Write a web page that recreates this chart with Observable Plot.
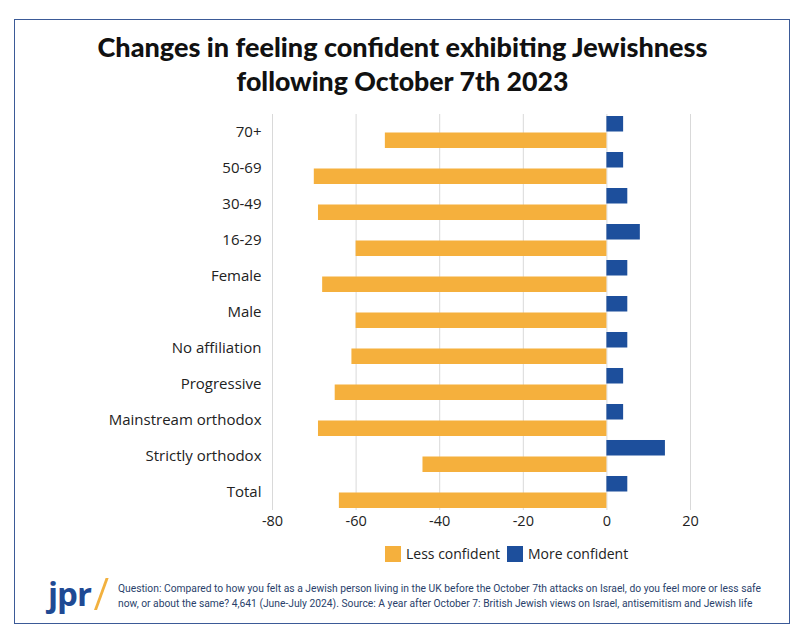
<!DOCTYPE html>
<html>
<head>
<meta charset="utf-8">
<script src="https://cdn.jsdelivr.net/npm/d3@7"></script>
<script src="https://cdn.jsdelivr.net/npm/@observablehq/plot@0.6"></script>
<style>
  html, body { margin: 0; padding: 0; background: #fff; }
  body { width: 805px; height: 644px; position: relative; overflow: hidden; font-family: "Open Sans", sans-serif; }
  #frame { position: absolute; left: 14px; top: 19px; width: 774px; height: 603px; border: 1.5px solid #3b5a97; }
  #title { position: absolute; left: 0; width: 805px; top: 29px; text-align: center; font-family: Lato, "Open Sans", sans-serif; font-weight: 900; font-size: 26px; line-height: 35px; color: #111; }
  #title div { white-space: nowrap; }
  #chart { position: absolute; left: 0; top: 110px; line-height: 0; }
  #legend { position: absolute; top: 545px; left: 0; width: 805px; height: 18px; font-size: 14px; color: #222; }
  .sw { position: absolute; top: 1px; width: 16px; height: 16px; }
  .lt { position: absolute; top: -1px; white-space: nowrap; }
  #logo { position: absolute; left: 48px; top: 571px; font-family: "Open Sans", sans-serif; font-weight: 700; font-size: 33px; color: #1f4a94; letter-spacing: -1px; }
  #slash { position: absolute; left: 94px; top: 578px; width: 3px; height: 32px; background: #f2b13f; transform: skewX(-20deg); transform-origin: bottom left; }
  #note { position: absolute; left: 118px; top: 581px; font-family: Roboto, "Open Sans", sans-serif; font-size: 11px; line-height: 15px; color: #2a3f6b; }
  #note div { white-space: nowrap; }
</style>
</head>
<body>
<div id="frame"></div>
<div id="title"><div id="t1">Changes in feeling confident exhibiting Jewishness</div><div id="t2">following October 7th 2023</div></div>
<div id="chart"></div>
<div id="legend"></div>
<div id="logo">jpr</div>
<div id="slash"></div>
<div id="note"><div id="n1">Question: Compared to how you felt as a Jewish person living in the UK before the October 7th attacks on Israel, do you feel more or less safe</div><div id="n2">now, or about the same? 4,641 (June-July 2024). Source: A year after October 7: British Jewish views on Israel, antisemitism and Jewish life</div></div>
<script>
const categories = ["70+", "50-69", "30-49", "16-29", "Female", "Male", "No affiliation", "Progressive", "Mainstream orthodox", "Strictly orthodox", "Total"];
const lessConfident = [-53, -70, -69, -60, -68, -60, -61, -65, -69, -44, -64];
const moreConfident = [4, 4, 5, 8, 5, 5, 5, 4, 4, 14, 5];
const seriesNames = ["Less confident", "More confident"];
const seriesColors = ["#f5b03d", "#1d4f9c"];
const xTicks = [-80, -60, -40, -20, 0, 20];

const lessData = categories.map((c, i) => ({category: c, value: lessConfident[i]}));
const moreData = categories.map((c, i) => ({category: c, value: moreConfident[i]}));

const chart = Plot.plot({
  width: 805,
  height: 424,
  marginTop: 4,
  marginBottom: 24,
  marginLeft: 272,
  marginRight: 115,
  style: {fontFamily: "'Open Sans', sans-serif", fontSize: "14px", color: "#222", background: "transparent"},
  x: {domain: [-80, 20], ticks: xTicks, tickFormat: d => String(d), label: null},
  y: {domain: categories, padding: 0.0556, paddingInner: 0.111, paddingOuter: 0.0556, round: false, label: null},
  marks: [
    Plot.ruleX(xTicks, {stroke: "#d9d9d9", strokeWidth: 1}),
    Plot.barX(moreData, {x: "value", y: "category", fill: seriesColors[1], insetBottom: 16.5}),
    Plot.barX(lessData, {x: "value", y: "category", fill: seriesColors[0], insetTop: 16.5}),
    Plot.axisX({ticks: xTicks, tickFormat: d => String(d), tickSize: 0, tickPadding: 5, fontSize: 14.5}),
    Plot.axisY({tickSize: 0, tickPadding: 11, fontSize: 15})
  ]
});
document.getElementById("chart").appendChild(chart);

// legend
const legend = document.getElementById("legend");
const legendPos = [{sw: 385, tx: 406}, {sw: 507, tx: 528}];
seriesNames.forEach((name, i) => {
  const s = document.createElement("div");
  s.className = "sw"; s.style.left = legendPos[i].sw + "px"; s.style.background = seriesColors[i];
  legend.appendChild(s);
  const t = document.createElement("div");
  t.className = "lt"; t.style.left = legendPos[i].tx + "px"; t.textContent = name;
  legend.appendChild(t);
});

// fit text widths
function fit(el, target) {
  const span = document.createElement("span");
  span.textContent = el.textContent;
  el.textContent = ""; el.appendChild(span);
  const sw = span.getBoundingClientRect().width;
  const fs = parseFloat(getComputedStyle(el).fontSize);
  el.style.fontSize = (fs * target / sw) + "px";
}
fit(document.getElementById("t1"), 610);
fit(document.getElementById("t2"), 332);
const n1 = document.getElementById("n1");
const span = document.createElement("span"); span.textContent = n1.textContent; n1.textContent = ""; n1.appendChild(span);
const ratio = 644 / span.getBoundingClientRect().width;
document.getElementById("note").style.fontSize = (11 * ratio) + "px";
</script>
</body>
</html>
